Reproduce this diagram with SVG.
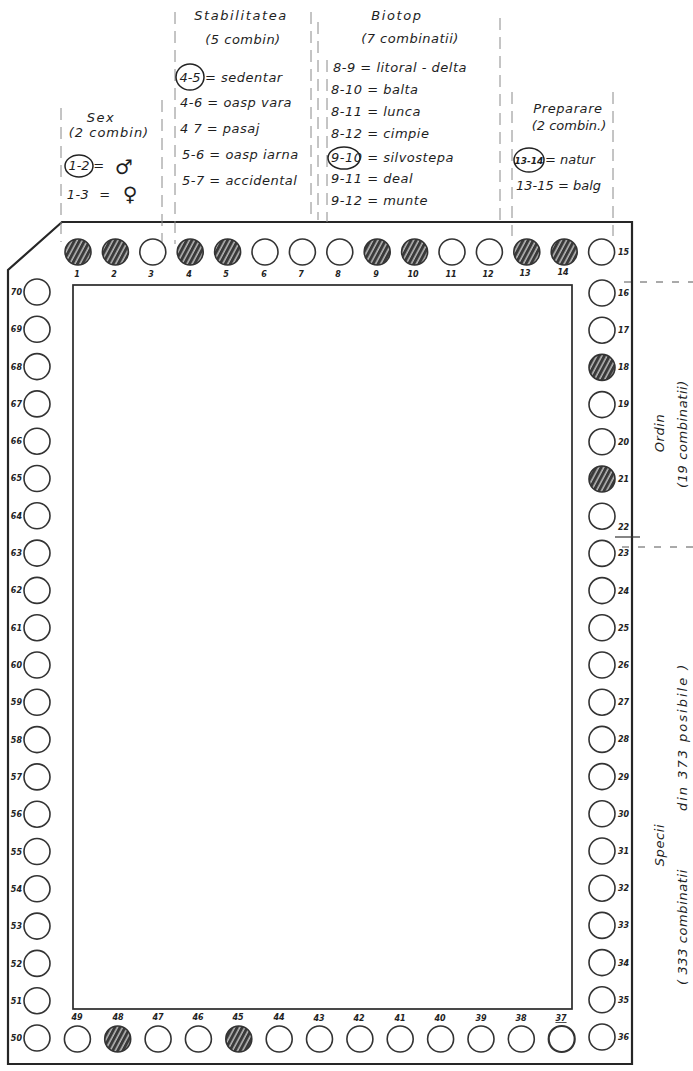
<svg xmlns="http://www.w3.org/2000/svg" width="693" height="1071" viewBox="0 0 693 1071">
<style>
.frame{fill:none;stroke:#262626;stroke-width:2.2}
.inner{fill:none;stroke:#2a2a2a;stroke-width:1.7}
.guide{fill:none;stroke:#8a8a8a;stroke-width:1;stroke-dasharray:12 7}
.dash{fill:none;stroke:#555;stroke-width:1;stroke-dasharray:7 9}
.hole{fill:#fff;stroke:#333;stroke-width:1.6}
.full{fill:url(#hatch);stroke:#333;stroke-width:1.6}
.ring{fill:none;stroke:#222;stroke-width:1.5}
.t{font-family:"DejaVu Sans",sans-serif;font-style:italic;font-size:13px;letter-spacing:0.5px;fill:#1e1e1e}
.h{font-family:"DejaVu Sans",sans-serif;font-style:italic;font-size:13px;fill:#1e1e1e;letter-spacing:1.6px}
.n{font-family:"DejaVu Sans",sans-serif;font-style:italic;font-weight:bold;font-size:8px;fill:#222}
.sym{font-family:"DejaVu Sans",sans-serif;font-weight:bold;font-size:20px;fill:#1e1e1e}
.side{font-family:"DejaVu Sans",sans-serif;font-style:italic;font-size:13px;letter-spacing:0.6px;fill:#1e1e1e}
</style>
<defs>
<pattern id="hatch" patternUnits="userSpaceOnUse" width="4.5" height="4.5" patternTransform="rotate(28)">
<rect width="4.5" height="4.5" fill="#3a3a3a"/>
<line x1="1" y1="0" x2="1" y2="4.5" stroke="#e8e8e8" stroke-width="1.1"/>
</pattern>
</defs>

<g id="card">
<path class="frame" d="M62,222 L632,222 L632,1064 L8,1064 L8,270 Z"/>
<rect class="inner" x="73" y="285" width="499" height="724"/>
</g>

<g id="connectors">
<line class="guide" x1="61" y1="108" x2="61" y2="242"/>
<line class="guide" x1="162" y1="100" x2="162" y2="242"/>
<line class="guide" x1="175" y1="12" x2="175" y2="244"/>
<line class="guide" x1="311" y1="12" x2="311" y2="220"/>
<line class="guide" x1="318" y1="22" x2="318" y2="220"/>
<line class="guide" x1="327" y1="60" x2="327" y2="222"/>
<line class="guide" x1="500" y1="18" x2="500" y2="222"/>
<line class="guide" x1="512" y1="92" x2="512" y2="236"/>
<line class="guide" x1="613" y1="92" x2="613" y2="236"/>
<line class="dash" x1="624" y1="282" x2="693" y2="282"/>
<line class="dash" x1="622" y1="547" x2="693" y2="547"/>
<line x1="615" y1="537" x2="640" y2="537" stroke="#333" stroke-width="1.2"/>
</g>

<g id="sex">
<text class="h" x="101" y="122" text-anchor="middle">Sex</text>
<text class="t" x="109" y="137" text-anchor="middle" style="letter-spacing:1px">(2 combin)</text>
<ellipse class="ring" cx="79" cy="166" rx="14" ry="11"/>
<text class="t" x="79" y="170" text-anchor="middle" style="letter-spacing:0">1-2</text>
<text class="t" x="99" y="170" text-anchor="middle">=</text>
<text class="sym" x="124" y="174" text-anchor="middle">♂</text>
<text class="t" x="78" y="199" text-anchor="middle">1-3</text>
<text class="t" x="105" y="199" text-anchor="middle">=</text>
<text class="sym" x="130" y="201" text-anchor="middle">♀</text>
</g>

<g id="stabilitatea">
<text class="h" x="241" y="20" text-anchor="middle">Stabilitatea</text>
<text class="t" x="243" y="44" text-anchor="middle">(5 combin)</text>
<ellipse class="ring" cx="190" cy="77" rx="14" ry="13"/>
<text class="t" x="190" y="82" text-anchor="middle" style="letter-spacing:0">4-5</text>
<text class="t" x="205" y="82">= sedentar</text>
<text class="t" x="180" y="107">4-6 = oasp vara</text>
<text class="t" x="180" y="133">4 7 = pasaj</text>
<text class="t" x="182" y="159">5-6 = oasp iarna</text>
<text class="t" x="182" y="185">5-7 = accidental</text>
</g>

<g id="biotop">
<text class="h" x="397" y="20" text-anchor="middle">Biotop</text>
<text class="t" x="410" y="43" text-anchor="middle">(7 combinatii)</text>
<text class="t" x="333" y="72">8-9 = litoral - delta</text>
<text class="t" x="331" y="94">8-10 = balta</text>
<text class="t" x="331" y="116">8-11 = lunca</text>
<text class="t" x="331" y="138">8-12 = cimpie</text>
<ellipse class="ring" cx="344" cy="158" rx="16" ry="11"/>
<text class="t" x="331" y="162">9-10 = silvostepa</text>
<text class="t" x="331" y="183">9-11 = deal</text>
<text class="t" x="331" y="205">9-12 = munte</text>
</g>

<g id="preparare">
<text class="h" x="568" y="113" text-anchor="middle" style="letter-spacing:0.6px">Preparare</text>
<text class="t" x="569" y="130" text-anchor="middle" style="letter-spacing:0">(2 combin.)</text>
<ellipse class="ring" cx="529" cy="160" rx="15" ry="12"/>
<text class="t" x="529" y="163.5" text-anchor="middle" style="font-size:9px;letter-spacing:0;font-weight:bold">13-14</text>
<text class="t" x="545" y="164" style="letter-spacing:0">= natur</text>
<text class="t" x="516" y="190" style="letter-spacing:0">13-15 = balg</text>
</g>

<g id="ordin">
<text class="side" transform="translate(664,433) rotate(-90)" text-anchor="middle">Ordin</text>
<text class="side" transform="translate(687,434) rotate(-90)" text-anchor="middle">(19 combinatii)</text>
</g>

<g id="specii">
<text class="side" transform="translate(664,845) rotate(-90)" text-anchor="middle">Specii</text>
<text class="side" transform="translate(687,985) rotate(-90)">( 333 combinatii<tspan dx="58" style="letter-spacing:2px">din 373 posibile )</tspan></text>
</g>

<g id="holes-top">
<circle class="full" cx="78" cy="252" r="13"/><text class="n" x="77" y="277" text-anchor="middle">1</text>
<circle class="full" cx="115.4" cy="252" r="13"/><text class="n" x="114" y="277" text-anchor="middle">2</text>
<circle class="hole" cx="152.8" cy="252" r="13"/><text class="n" x="151" y="277" text-anchor="middle">3</text>
<circle class="full" cx="190.2" cy="252" r="13"/><text class="n" x="189" y="277" text-anchor="middle">4</text>
<circle class="full" cx="227.6" cy="252" r="13"/><text class="n" x="226" y="277" text-anchor="middle">5</text>
<circle class="hole" cx="265" cy="252" r="13"/><text class="n" x="264" y="277" text-anchor="middle">6</text>
<circle class="hole" cx="302.4" cy="252" r="13"/><text class="n" x="301" y="277" text-anchor="middle">7</text>
<circle class="hole" cx="339.8" cy="252" r="13"/><text class="n" x="338" y="277" text-anchor="middle">8</text>
<circle class="full" cx="377.2" cy="252" r="13"/><text class="n" x="376" y="277" text-anchor="middle">9</text>
<circle class="full" cx="414.6" cy="252" r="13"/><text class="n" x="413" y="277" text-anchor="middle">10</text>
<circle class="hole" cx="452" cy="252" r="13"/><text class="n" x="451" y="277" text-anchor="middle">11</text>
<circle class="hole" cx="489.4" cy="252" r="13"/><text class="n" x="488" y="277" text-anchor="middle">12</text>
<circle class="full" cx="526.8" cy="252" r="13"/><text class="n" x="525" y="276" text-anchor="middle">13</text>
<circle class="full" cx="564.2" cy="252" r="13"/><text class="n" x="563" y="275" text-anchor="middle">14</text>
<circle class="hole" cx="601.6" cy="252" r="13"/><text class="n" x="618" y="255">15</text>
</g>

<g id="holes-right">
<circle class="hole" cx="602" cy="293" r="13"/><text class="n" x="618" y="296">16</text>
<circle class="hole" cx="602" cy="330.2" r="13"/><text class="n" x="618" y="333">17</text>
<circle class="full" cx="602" cy="367.4" r="13"/><text class="n" x="618" y="370">18</text>
<circle class="hole" cx="602" cy="404.6" r="13"/><text class="n" x="618" y="407">19</text>
<circle class="hole" cx="602" cy="441.8" r="13"/><text class="n" x="618" y="445">20</text>
<circle class="full" cx="602" cy="479" r="13"/><text class="n" x="618" y="482">21</text>
<circle class="hole" cx="602" cy="516.2" r="13"/><text class="n" x="618" y="530">22</text>
<circle class="hole" cx="602" cy="553.4" r="13"/><text class="n" x="618" y="556">23</text>
<circle class="hole" cx="602" cy="590.6" r="13"/><text class="n" x="618" y="594">24</text>
<circle class="hole" cx="602" cy="627.8" r="13"/><text class="n" x="618" y="631">25</text>
<circle class="hole" cx="602" cy="665" r="13"/><text class="n" x="618" y="668">26</text>
<circle class="hole" cx="602" cy="702.2" r="13"/><text class="n" x="618" y="705">27</text>
<circle class="hole" cx="602" cy="739.4" r="13"/><text class="n" x="618" y="742">28</text>
<circle class="hole" cx="602" cy="776.6" r="13"/><text class="n" x="618" y="780">29</text>
<circle class="hole" cx="602" cy="813.8" r="13"/><text class="n" x="618" y="817">30</text>
<circle class="hole" cx="602" cy="851" r="13"/><text class="n" x="618" y="854">31</text>
<circle class="hole" cx="602" cy="888.2" r="13"/><text class="n" x="618" y="891">32</text>
<circle class="hole" cx="602" cy="925.4" r="13"/><text class="n" x="618" y="928">33</text>
<circle class="hole" cx="602" cy="962.6" r="13"/><text class="n" x="618" y="966">34</text>
<circle class="hole" cx="602" cy="999.8" r="13"/><text class="n" x="618" y="1003">35</text>
<circle class="hole" cx="602" cy="1037" r="13"/><text class="n" x="618" y="1040">36</text>
</g>

<g id="holes-bottom">
<circle class="hole" cx="561.7" cy="1039" r="13" style="stroke-width:2.2"/><text class="n" x="561" y="1021" text-anchor="middle" style="text-decoration:underline">37</text>
<circle class="hole" cx="521.3" cy="1039" r="13"/><text class="n" x="521" y="1021" text-anchor="middle">38</text>
<circle class="hole" cx="481" cy="1039" r="13"/><text class="n" x="481" y="1021" text-anchor="middle">39</text>
<circle class="hole" cx="440.6" cy="1039" r="13"/><text class="n" x="440" y="1021" text-anchor="middle">40</text>
<circle class="hole" cx="400.2" cy="1039" r="13"/><text class="n" x="400" y="1021" text-anchor="middle">41</text>
<circle class="hole" cx="359.9" cy="1039" r="13"/><text class="n" x="359" y="1021" text-anchor="middle">42</text>
<circle class="hole" cx="319.5" cy="1039" r="13"/><text class="n" x="319" y="1021" text-anchor="middle">43</text>
<circle class="hole" cx="279.2" cy="1039" r="13"/><text class="n" x="279" y="1020" text-anchor="middle">44</text>
<circle class="full" cx="238.8" cy="1039" r="13"/><text class="n" x="238" y="1020" text-anchor="middle">45</text>
<circle class="hole" cx="198.4" cy="1039" r="13"/><text class="n" x="198" y="1020" text-anchor="middle">46</text>
<circle class="hole" cx="158.1" cy="1039" r="13"/><text class="n" x="158" y="1020" text-anchor="middle">47</text>
<circle class="full" cx="117.7" cy="1039" r="13"/><text class="n" x="118" y="1020" text-anchor="middle">48</text>
<circle class="hole" cx="77.4" cy="1039" r="13"/><text class="n" x="77" y="1020" text-anchor="middle">49</text>
</g>

<g id="holes-left">
<circle class="hole" cx="37" cy="292" r="13"/><text class="n" x="22" y="295" text-anchor="end">70</text>
<circle class="hole" cx="37" cy="329.3" r="13"/><text class="n" x="22" y="332" text-anchor="end">69</text>
<circle class="hole" cx="37" cy="366.6" r="13"/><text class="n" x="22" y="370" text-anchor="end">68</text>
<circle class="hole" cx="37" cy="403.9" r="13"/><text class="n" x="22" y="407" text-anchor="end">67</text>
<circle class="hole" cx="37" cy="441.2" r="13"/><text class="n" x="22" y="444" text-anchor="end">66</text>
<circle class="hole" cx="37" cy="478.5" r="13"/><text class="n" x="22" y="481" text-anchor="end">65</text>
<circle class="hole" cx="37" cy="515.8" r="13"/><text class="n" x="22" y="519" text-anchor="end">64</text>
<circle class="hole" cx="37" cy="553.1" r="13"/><text class="n" x="22" y="556" text-anchor="end">63</text>
<circle class="hole" cx="37" cy="590.4" r="13"/><text class="n" x="22" y="593" text-anchor="end">62</text>
<circle class="hole" cx="37" cy="627.7" r="13"/><text class="n" x="22" y="631" text-anchor="end">61</text>
<circle class="hole" cx="37" cy="665" r="13"/><text class="n" x="22" y="668" text-anchor="end">60</text>
<circle class="hole" cx="37" cy="702.3" r="13"/><text class="n" x="22" y="705" text-anchor="end">59</text>
<circle class="hole" cx="37" cy="739.6" r="13"/><text class="n" x="22" y="743" text-anchor="end">58</text>
<circle class="hole" cx="37" cy="776.9" r="13"/><text class="n" x="22" y="780" text-anchor="end">57</text>
<circle class="hole" cx="37" cy="814.2" r="13"/><text class="n" x="22" y="817" text-anchor="end">56</text>
<circle class="hole" cx="37" cy="851.5" r="13"/><text class="n" x="22" y="855" text-anchor="end">55</text>
<circle class="hole" cx="37" cy="888.8" r="13"/><text class="n" x="22" y="892" text-anchor="end">54</text>
<circle class="hole" cx="37" cy="926.1" r="13"/><text class="n" x="22" y="929" text-anchor="end">53</text>
<circle class="hole" cx="37" cy="963.4" r="13"/><text class="n" x="22" y="967" text-anchor="end">52</text>
<circle class="hole" cx="37" cy="1000.7" r="13"/><text class="n" x="22" y="1004" text-anchor="end">51</text>
<circle class="hole" cx="37" cy="1038" r="13"/><text class="n" x="22" y="1041" text-anchor="end">50</text>
</g>
</svg>
